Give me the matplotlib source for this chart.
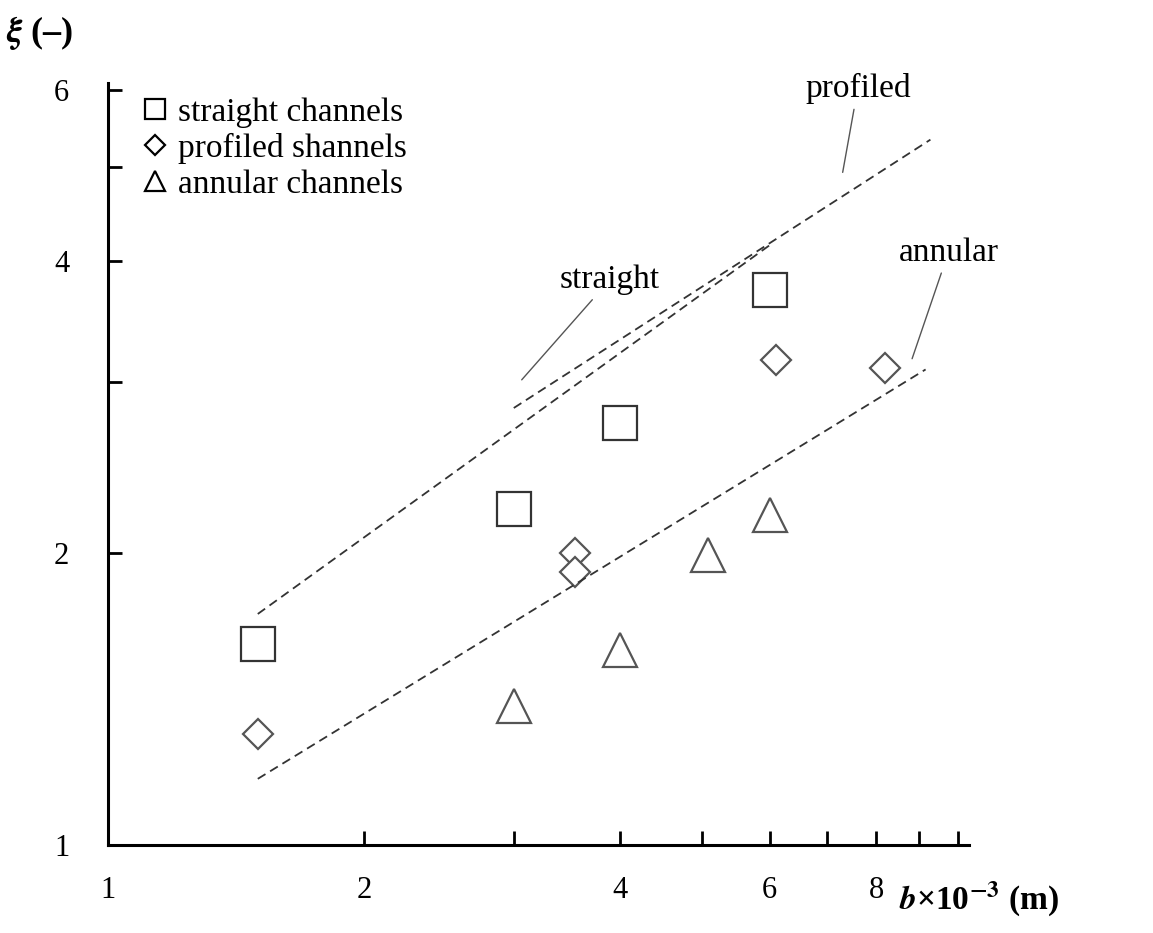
import matplotlib
matplotlib.use("Agg")
import matplotlib.pyplot as plt
from matplotlib.ticker import FixedLocator, NullFormatter

plt.rcParams["font.family"] = ["Liberation Serif", "DejaVu Serif"]
plt.rcParams["mathtext.fontset"] = "stix"

# measured points
sq_x = [1.5, 3.0, 4.0, 6.0]
sq_y = [1.61, 2.22, 2.72, 3.73]
di_x = [1.5, 3.54, 3.54, 6.1, 8.2]
di_y = [1.30, 2.00, 1.91, 3.16, 3.10]
tr_x = [3.0, 4.0, 5.08, 6.0]
tr_y = [1.39, 1.59, 1.99, 2.19]

# fitted dashed lines (end points)
straight_x = [1.5, 6.0]
straight_y = [1.73, 4.15]
profiled_x = [3.0, 9.27]
profiled_y = [2.82, 5.33]
annular_x = [1.5, 9.15]
annular_y = [1.17, 3.09]

fig = plt.figure(figsize=(11.53, 9.33), dpi=100)
ax = fig.add_axes([0.0937, 0.0943, 0.747, 0.817])
ax.set_xscale("log")
ax.set_yscale("log")
ax.set_xlim(1, 10.3)
ax.set_ylim(1, 6.1)

ms = dict(markerfacecolor="white", linestyle="none", markeredgewidth=1.6)
ax.plot(sq_x, sq_y, "s", color="#333", markersize=24, **ms)
ax.plot(di_x, di_y, "D", color="#555", markersize=15, **ms)
ax.plot(tr_x, tr_y, "^", color="#555", markersize=24, **ms)

for xs, ys in [(straight_x, straight_y), (profiled_x, profiled_y), (annular_x, annular_y)]:
    ax.plot(xs, ys, "--", color="#333", lw=1.3, dashes=(5, 3))

ann = dict(xycoords="data", textcoords="data", fontsize=24,
           arrowprops=dict(arrowstyle="-", color="#555", lw=1.0))
ax.annotate("straight", xy=(3.05, 3.0), xytext=(3.4, 3.75), **ann)
ax.annotate("profiled", xy=(7.3, 4.9), xytext=(6.6, 5.9), **ann)
ax.annotate("annular", xy=(8.8, 3.15), xytext=(8.5, 4.0), **ann)

ax.spines["top"].set_visible(False)
ax.spines["right"].set_visible(False)
for s in ("left", "bottom"):
    ax.spines[s].set_linewidth(2.2)

ax.xaxis.set_major_locator(FixedLocator([1, 2, 4, 6, 8]))
ax.xaxis.set_minor_locator(FixedLocator([3, 5, 7, 9, 10]))
ax.set_xticklabels(["1", "2", "4", "6", "8"])
ax.xaxis.set_minor_formatter(NullFormatter())
ax.yaxis.set_major_locator(FixedLocator([1, 2, 4, 6]))
ax.yaxis.set_minor_locator(FixedLocator([3, 5]))
ax.set_yticklabels(["1", "2", "4", "6"])
ax.yaxis.set_minor_formatter(NullFormatter())
ax.tick_params(which="both", direction="in", width=2, length=10, labelsize=22)
ax.tick_params(axis="x", pad=22)
ax.tick_params(axis="y", pad=28)

ax.legend([plt.Line2D([], [], marker="s", color="k", **ms, markersize=14),
           plt.Line2D([], [], marker="D", color="k", **ms, markersize=10),
           plt.Line2D([], [], marker="^", color="k", **ms, markersize=14)],
          ["straight channels", "profiled shannels", "annular channels"],
          loc="upper left", bbox_to_anchor=(0.0, 1.02), frameon=False,
          fontsize=24, handletextpad=0.2, handlelength=1.0, labelspacing=0.15)

fig.text(0.005, 0.955, r"$\boldsymbol{\xi}$ (–)", fontsize=26, fontweight="bold")
fig.text(0.78, 0.025, r"$\boldsymbol{b}$×10$^{\mathbf{-3}}$ (m)", fontsize=24, fontweight="bold")

fig.savefig("out.png", dpi=100)
